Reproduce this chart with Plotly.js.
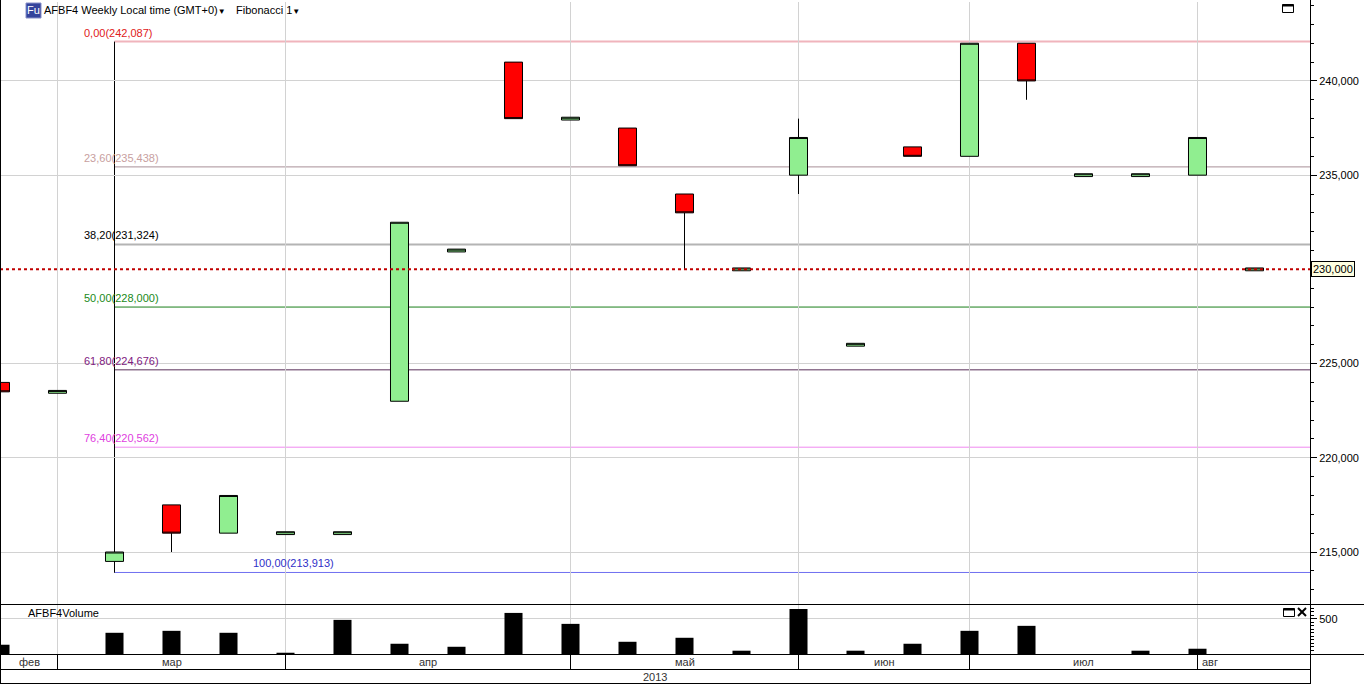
<!DOCTYPE html>
<html>
<head>
<meta charset="utf-8">
<script src="https://cdn.plot.ly/plotly-3.0.1.min.js"></script>
<style>
html,body{margin:0;padding:0;background:#fff;}
#chart{width:1364px;height:684px;}
</style>
</head>
<body>
<div id="chart"></div>
<script>
// ---------- data ----------
const weeks   = [0,1,2,3,4,5,6,7,8,9,10,11,12,13,14,15,16,17,18,19,20,21,22];
const opens   = [224000,223425,214500,217500,216000,215925,215925,223000,230925,241000,237925,237500,234000,229925,235000,225925,236500,236000,242000,234925,234925,235000,229925];
const closes  = [223500,223575,215000,216000,218000,216075,216075,232500,231075,238000,238075,235500,233000,230075,237000,226075,236000,242000,240000,235075,235075,237000,230075];
const highs   = [224000,223575,215000,217500,218000,216075,216075,232500,231075,241000,238075,237500,234000,230075,238000,226075,236500,242000,242000,235075,235075,237000,230075];
const lows    = [223500,223425,213913,215000,216000,215925,215925,223000,230925,238000,237925,235500,230000,229925,234000,225925,236000,236000,239000,234925,234925,235000,229925];
const volumes = [132,0,302,330,302,18,486,146,103,585,429,174,231,47,641,47,146,330,401,0,47,75,0];

const monthLabels = ['фев','мар','апр','май','июн','июл','авг'];
const monthStarts = [0,1,5,10,14,17,21];
const yearLabel = '2013';

const priceTicks = [215000,220000,225000,235000,240000];
const fibPct  = [0,23.6,38.2,50,61.8,76.4,100];
const fibVal  = [242087,235438,231324,228000,224676,220562,213913];
const fibStartWeek = 2;
const lastPrice = 230000;

// ---------- styles ----------
const fibLineColor = ['#f0b4bc','#a89098','#b4b4b4','#1a7f1a','#907490','#f088f0','#7070f0'];
const fibLineWidth = [2,1,2,1,1.5,1,1];
const fibTextColor = ['#e02020','#c8a0a0','#000000','#1a8a1a','#802080','#e040e0','#3030c8'];

const W=1364, H=684, ML=0, MR=54, MT=2, MB=30;
const PW=W-ML-MR, PH=H-MT-MB;           // 1310 x 652
const STEP=57;                           // px per week
const volTopPx=604;
const volFrac=(H-MB-volTopPx)/PH;
const px=(x)=>(x-ML)/PW;
const py=(y)=>(H-MB-y)/PH;
const FONT='Liberation Sans, Arial, sans-serif';

function fmtThousands(v){return String(v).replace(/\B(?=(\d{3})+(?!\d))/g, ',');}
function fmtPct(p){return p.toFixed(2).replace('.', ',');}

// ---------- traces ----------
const candle = {
  type:'candlestick', x:weeks, open:opens, high:highs, low:lows, close:closes,
  xaxis:'x', yaxis:'y',
  increasing:{line:{color:'#000',width:1}, fillcolor:'#90ee90'},
  decreasing:{line:{color:'#000',width:1}, fillcolor:'#ff0000'},
  whiskerwidth:0, hoverinfo:'skip', showlegend:false
};
const vol = {
  type:'bar', x:weeks, y:volumes, xaxis:'x', yaxis:'y2',
  marker:{color:'#000', line:{width:0}}, width:0.316,
  hoverinfo:'skip', showlegend:false
};

// ---------- shapes ----------
const shapes=[];
fibVal.forEach((v,i)=>{
  shapes.push({type:'line', xref:'x', yref:'y', x0:fibStartWeek, x1:23.1, y0:v, y1:v,
    line:{color:fibLineColor[i], width:fibLineWidth[i]}, layer:'below'});
});
shapes.push({type:'line', xref:'x', yref:'y', x0:fibStartWeek, x1:fibStartWeek,
  y0:fibVal[0], y1:fibVal[fibVal.length-1], line:{color:'#000',width:1}, layer:'below'});
shapes.push({type:'line', xref:'paper', yref:'y', x0:0, x1:1, y0:lastPrice, y1:lastPrice,
  line:{color:'#c00000', width:2, dash:'dot'}});
const hl=(y,x0,x1,w)=>shapes.push({type:'line',xref:'paper',yref:'paper',x0:px(x0),x1:px(x1),y0:py(y),y1:py(y),line:{color:'#000',width:w||1}});
const vl=(x,y0,y1,w)=>shapes.push({type:'line',xref:'paper',yref:'paper',x0:px(x),x1:px(x),y0:py(y0),y1:py(y1),line:{color:'#000',width:w||1}});
hl(604.5,0,1364);
hl(654.5,0,1364);
hl(669.5,0,1310);
hl(683.5,0,1310);
vl(1310.5,0,684);
vl(0.5,0,684);
monthStarts.slice(1).forEach(m=>{
  shapes.push({type:'line', xref:'x', yref:'paper', x0:m, x1:m, y0:py(655), y1:py(669.5), line:{color:'#000',width:1}});
});
shapes.push({type:'rect',xref:'paper',yref:'paper',x0:px(1282.5),x1:px(1293.5),y0:py(12.5),y1:py(4.5),line:{color:'#000',width:1}});
hl(5.5,1282.5,1293.5,2);
shapes.push({type:'rect',xref:'paper',yref:'paper',x0:px(1283.5),x1:px(1294.5),y0:py(616.5),y1:py(608.5),line:{color:'#000',width:1}});
hl(609.5,1283.5,1294.5,2);
shapes.push({type:'line',xref:'paper',yref:'paper',x0:px(1298),x1:px(1306),y0:py(608),y1:py(616),line:{color:'#000',width:2}});
shapes.push({type:'line',xref:'paper',yref:'paper',x0:px(1298),x1:px(1306),y0:py(616),y1:py(608),line:{color:'#000',width:2}});
shapes.push({type:'rect',xref:'paper',yref:'paper',x0:px(26),x1:px(41),y0:py(18),y1:py(3),line:{color:'#8890c8',width:1},fillcolor:'#34449c'});

// ---------- annotations ----------
const ann=[];
fibVal.forEach((v,i)=>{
  const isLast = i===fibVal.length-1;
  ann.push({xref:'x', yref:'y', x:fibStartWeek, y:v, xanchor:'left', yanchor:'middle',
    xshift: isLast ? 136 : -33, yshift: 9, showarrow:false,
    text: fmtPct(fibPct[i])+'('+fmtThousands(v)+')',
    font:{family:FONT,size:11,color:fibTextColor[i]}});
});
ann.push({xref:'paper', yref:'y', x:1, y:lastPrice, xanchor:'left', yanchor:'middle', xshift:1,
  text:fmtThousands(lastPrice), showarrow:false, bgcolor:'#ffffe1', bordercolor:'#000', borderwidth:1, borderpad:1,
  font:{family:FONT,size:11,color:'#000'}});
monthLabels.forEach((m,i)=>{
  const last = i===monthLabels.length-1;
  const x = last ? monthStarts[i] : (monthStarts[i]+monthStarts[i+1])/2;
  ann.push({xref:'x', yref:'paper', x:x, y:py(662), xanchor: last?'left':'center', xshift: last?2:0,
    yanchor:'middle', text:m, showarrow:false, font:{family:FONT,size:11,color:'#333'}});
});
ann.push({xref:'paper', yref:'paper', x:px(655), y:py(677), xanchor:'center', yanchor:'middle',
  text:yearLabel, showarrow:false, font:{family:FONT,size:11,color:'#333'}});
ann.push({xref:'paper', yref:'paper', x:px(33.5), y:py(10.5), xanchor:'center', yanchor:'middle',
  text:'Fu', showarrow:false, font:{family:FONT,size:11,color:'#fff'}});
ann.push({xref:'paper', yref:'paper', x:px(42), y:py(10), xanchor:'left', yanchor:'middle',
  text:'AFBF4 Weekly Local time (GMT+0)<span style="font-size:8px">▼</span>', showarrow:false, font:{family:FONT,size:11,color:'#000'}});
ann.push({xref:'paper', yref:'paper', x:px(234), y:py(10), xanchor:'left', yanchor:'middle',
  text:'Fibonacci 1<span style="font-size:8px">▼</span>', showarrow:false, font:{family:FONT,size:11,color:'#000'}});
ann.push({xref:'paper', yref:'paper', x:px(26), y:py(613), xanchor:'left', yanchor:'middle',
  text:'AFBF4Volume', showarrow:false, font:{family:FONT,size:11,color:'#000'}});

// ---------- layout ----------
const x0 = -0.5/STEP;
const layout = {
  width:W, height:H, margin:{l:ML,r:MR,t:MT,b:MB,pad:0},
  paper_bgcolor:'#fff', plot_bgcolor:'#fff', showlegend:false,
  font:{family:FONT,size:11,color:'#000'},
  boxgap:0.684, boxgroupgap:0,
  xaxis:{range:[x0, x0+PW/STEP], rangeslider:{visible:false}, tickvals:monthStarts.slice(1),
    showticklabels:false, ticks:'', showgrid:true, gridcolor:'#d2d2d2', gridwidth:1,
    zeroline:false, showline:false, fixedrange:true},
  yaxis:{domain:[volFrac,1], range:[212240,244190], side:'right', anchor:'x',
    tickvals:priceTicks, tickformat:',d', ticks:'outside', ticklen:6, tickcolor:'#000', tickwidth:1,
    minor:{dtick:1000, tick0:0, ticks:'outside', ticklen:3, tickcolor:'#000', showgrid:false},
    showgrid:true, gridcolor:'#d2d2d2', zeroline:false, showline:true, linecolor:'#000', linewidth:1,
    tickfont:{family:FONT,size:11,color:'#000'}, fixedrange:true},
  yaxis2:{domain:[0,volFrac], range:[0,712], side:'right', anchor:'x',
    tickvals:[500], tickformat:',d', ticks:'outside', ticklen:6, tickcolor:'#000',
    minor:{dtick:50, tick0:0, ticks:'outside', ticklen:3, tickcolor:'#000', showgrid:false},
    showgrid:true, gridcolor:'#d2d2d2', zeroline:false, showline:true, linecolor:'#000',
    tickfont:{family:FONT,size:11,color:'#000'}, fixedrange:true},
  shapes:shapes, annotations:ann
};

Plotly.newPlot('chart',[vol,candle],layout,{displayModeBar:false,staticPlot:true});
</script>
</body>
</html>
